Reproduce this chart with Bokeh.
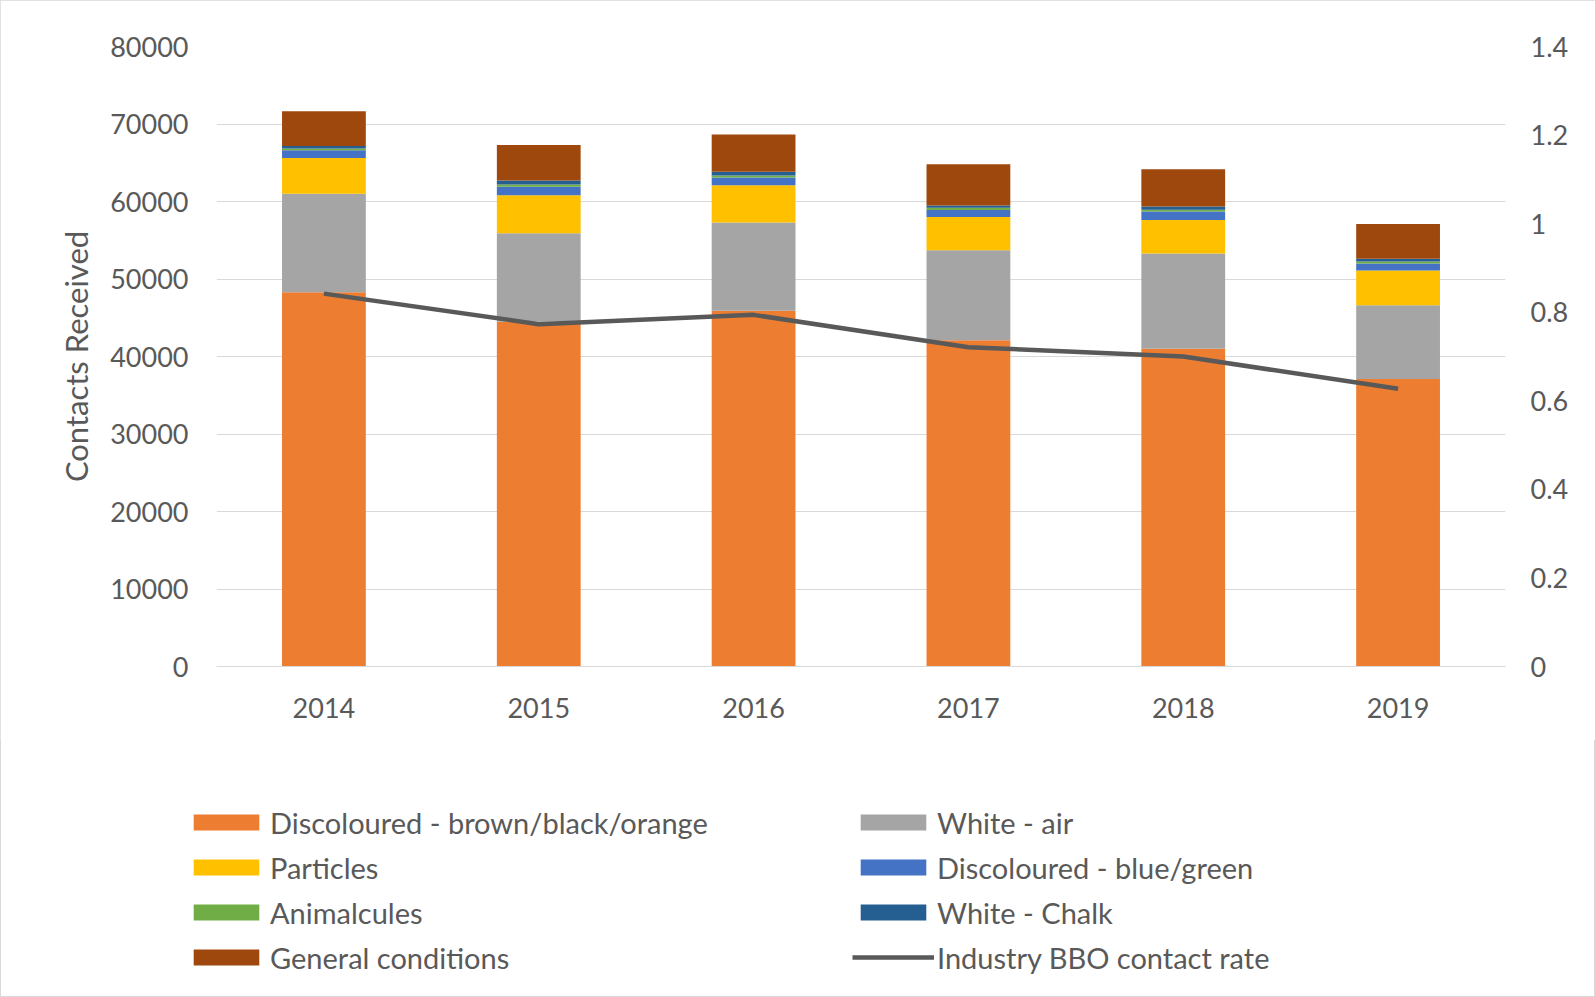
from bokeh.plotting import figure
from bokeh.layouts import column
from bokeh.models import (ColumnDataSource, Range1d, LinearAxis, Legend, LegendItem,
                          FixedTicker, CustomJSTickFormatter, FactorRange)
from bokeh.embed import file_html
from bokeh.resources import INLINE

years = ["2014", "2015", "2016", "2017", "2018", "2019"]
discoloured_brown = [48300, 44500, 45900, 42100, 41000, 37100]
white_air = [12700, 11400, 11400, 11600, 12300, 9500]
particles = [4600, 4900, 4800, 4300, 4300, 4500]
discoloured_blue = [1000, 1100, 1000, 900, 1100, 900]
animalcules = [250, 300, 250, 300, 250, 250]
white_chalk = [300, 500, 500, 300, 400, 350]
general_conditions = [4500, 4600, 4800, 5300, 4800, 4500]
bbo_rate = [0.842, 0.773, 0.794, 0.721, 0.700, 0.627]

left_ticks = [0, 10000, 20000, 30000, 40000, 50000, 60000, 70000, 80000]
right_ticks = [0, 0.2, 0.4, 0.6, 0.8, 1, 1.2, 1.4]

series = ["Discoloured - brown/black/orange", "White - air", "Particles",
          "Discoloured - blue/green", "Animalcules", "White - Chalk", "General conditions"]
line_name = "Industry BBO contact rate"
keys = ["s0", "s1", "s2", "s3", "s4", "s5", "s6"]
colors = ["#ED7D31", "#A5A5A5", "#FFC000", "#4472C4", "#70AD47", "#255E91", "#9E480E"]
line_color = "#595959"

src = ColumnDataSource(dict(year=years, s0=discoloured_brown, s1=white_air, s2=particles,
                            s3=discoloured_blue, s4=animalcules, s5=white_chalk,
                            s6=general_conditions, rate=bbo_rate))

FONT = "Lato"
TXT = "#595959"
TICK_FS = "27px"

W = 1595
H_MAIN = 740
H_LEG = 997 - H_MAIN

p = figure(width=W, height=H_MAIN, x_range=FactorRange(*years), y_range=Range1d(0, 80000),
           output_backend="svg", toolbar_location=None,
           min_border_left=216, min_border_right=90, min_border_top=46,
           min_border_bottom=H_MAIN - 666)
p.extra_y_ranges = {"rate": Range1d(0, 1.4)}
p.outline_line_color = None
p.xgrid.grid_line_color = None
p.ygrid.grid_line_color = "#D9D9D9"
p.ygrid.ticker = FixedTicker(ticks=left_ticks)

renderers = p.vbar_stack(keys, x="year", width=0.39, color=colors, source=src, line_width=0)
p.line(x="year", y="rate", source=src, y_range_name="rate", line_color=line_color,
       line_width=4.5)

ya = p.yaxis[0]
ya.ticker = FixedTicker(ticks=left_ticks)
ya.axis_line_color = None
ya.major_tick_line_color = None
ya.minor_tick_line_color = None
ya.major_label_standoff = 22
ya.major_label_text_font = FONT
ya.major_label_text_font_size = TICK_FS
ya.major_label_text_color = TXT
ya.axis_label = "Contacts Received"
ya.axis_label_text_font = FONT
ya.axis_label_text_font_size = "31px"
ya.axis_label_text_font_style = "normal"
ya.axis_label_text_color = TXT
ya.axis_label_standoff = 12

ra = LinearAxis(y_range_name="rate", ticker=FixedTicker(ticks=right_ticks),
                formatter=CustomJSTickFormatter(code="return String(Math.round(tick*10)/10);"))
ra.axis_line_color = None
ra.major_tick_line_color = None
ra.minor_tick_line_color = None
ra.major_label_standoff = 19
ra.major_label_text_font = FONT
ra.major_label_text_font_size = TICK_FS
ra.major_label_text_color = TXT
p.add_layout(ra, "right")

xa = p.xaxis[0]
xa.axis_line_color = "#D9D9D9"
xa.major_tick_line_color = None
xa.minor_tick_line_color = None
xa.major_label_standoff = 25
xa.major_label_text_font = FONT
xa.major_label_text_font_size = TICK_FS
xa.major_label_text_color = TXT

# legend panel: a second figure holding hidden copies of the series; only its legends show
lp = figure(width=W, height=H_LEG, x_range=FactorRange(*years), y_range=Range1d(0, 80000),
            output_backend="svg", toolbar_location=None,
            min_border_left=0, min_border_right=0, min_border_top=0, min_border_bottom=0)
lp.extra_y_ranges = {"rate": Range1d(0, 1.4)}
lp.axis.visible = False
lp.grid.visible = False
lp.outline_line_color = None
lp.background_fill_alpha = 0
lp.border_fill_alpha = 0
lp.styles = {"transform": "translateX(-31px)"}

leg_rs = lp.vbar_stack(keys, x="year", width=0.39, color=colors, source=src, line_width=0)
leg_line = lp.line(x="year", y="rate", source=src, y_range_name="rate",
                   line_color=line_color, line_width=4.5)
for r in leg_rs + [leg_line]:
    r.visible = False

def make_legend(items, x):
    return Legend(items=items, location=(x, 22), orientation="vertical",
                  glyph_width=82, glyph_height=20, label_height=36, spacing=9,
                  label_standoff=3, padding=0, margin=0, border_line_color=None,
                  background_fill_alpha=0, inactive_fill_alpha=0,
                  label_text_font=FONT, label_text_font_size="29px",
                  label_text_color=TXT, click_policy="none")

left_items = [LegendItem(label=series[i], renderers=[leg_rs[i]]) for i in (0, 2, 4, 6)]
right_items = [LegendItem(label=series[i], renderers=[leg_rs[i]]) for i in (1, 3, 5)]
right_items.append(LegendItem(label=line_name, renderers=[leg_line]))
lp.add_layout(make_legend(left_items, 0))
lp.add_layout(make_legend(right_items, 667))

layout = column(p, lp, spacing=0)
layout.styles = {"outline": "1px solid #D9D9D9", "outline-offset": "-1px"}

open("out.html", "w").write(file_html(layout, INLINE))
